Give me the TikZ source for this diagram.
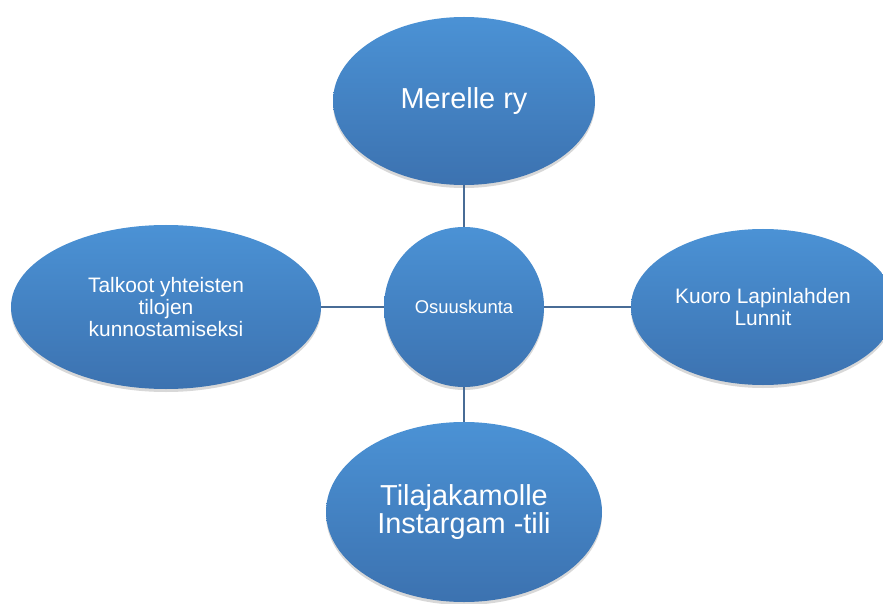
\documentclass[tikz,border=0pt]{standalone}
\usepackage{fontspec}
\setmainfont{Liberation Sans}
\usetikzlibrary{shapes.geometric,shadows}
\definecolor{bubbletop}{RGB}{75,146,213}
\definecolor{bubblebot}{RGB}{60,114,176}
\definecolor{linkblue}{RGB}{72,108,150}
\tikzset{
  bubble/.style={ellipse, draw=none, shading=axis, top color=bubbletop,
    bottom color=bubblebot, text=white, align=center, inner sep=0pt,
    drop shadow={shadow xshift=0bp, shadow yshift=-3bp, opacity=0.25, fill=black!60}},
  link/.style={draw=linkblue, line width=1.2bp}
}
\begin{document}
\begin{tikzpicture}[x=1bp,y=-1bp]
  \clip (0,0) rectangle (883,604);
  \fill[white] (0,0) rectangle (883,604);
  % hub
  \node[bubble, minimum width=160bp, minimum height=160bp,
    font=\fontsize{18.5}{20}\selectfont] (hub) at (464,307) {Osuuskunta};
  % outer items
  \node[bubble, minimum width=262bp, minimum height=168bp,
    font=\fontsize{29}{29}\selectfont] (meri) at (464,101) {Merelle ry};
  \node[bubble, minimum width=310bp, minimum height=164bp,
    font=\fontsize{21}{22.5}\selectfont] (talkoot) at (166,307)
    {Talkoot yhteisten\\ tilojen\\ kunnostamiseksi};
  \node[bubble, minimum width=264bp, minimum height=156bp,
    font=\fontsize{21}{21.6}\selectfont] (kuoro) at (763,307)
    {Kuoro Lapinlahden\\ Lunnit};
  \node[bubble, minimum width=276bp, minimum height=180bp,
    font=\fontsize{29}{28}\selectfont] (insta) at (464,512)
    {Tilajakamolle\\ Instargam -tili};
  % connectors
  \draw[link] (meri) -- (hub);
  \draw[link] (talkoot) -- (hub);
  \draw[link] (hub) -- (kuoro);
  \draw[link] (hub) -- (insta);
\end{tikzpicture}
\end{document}
